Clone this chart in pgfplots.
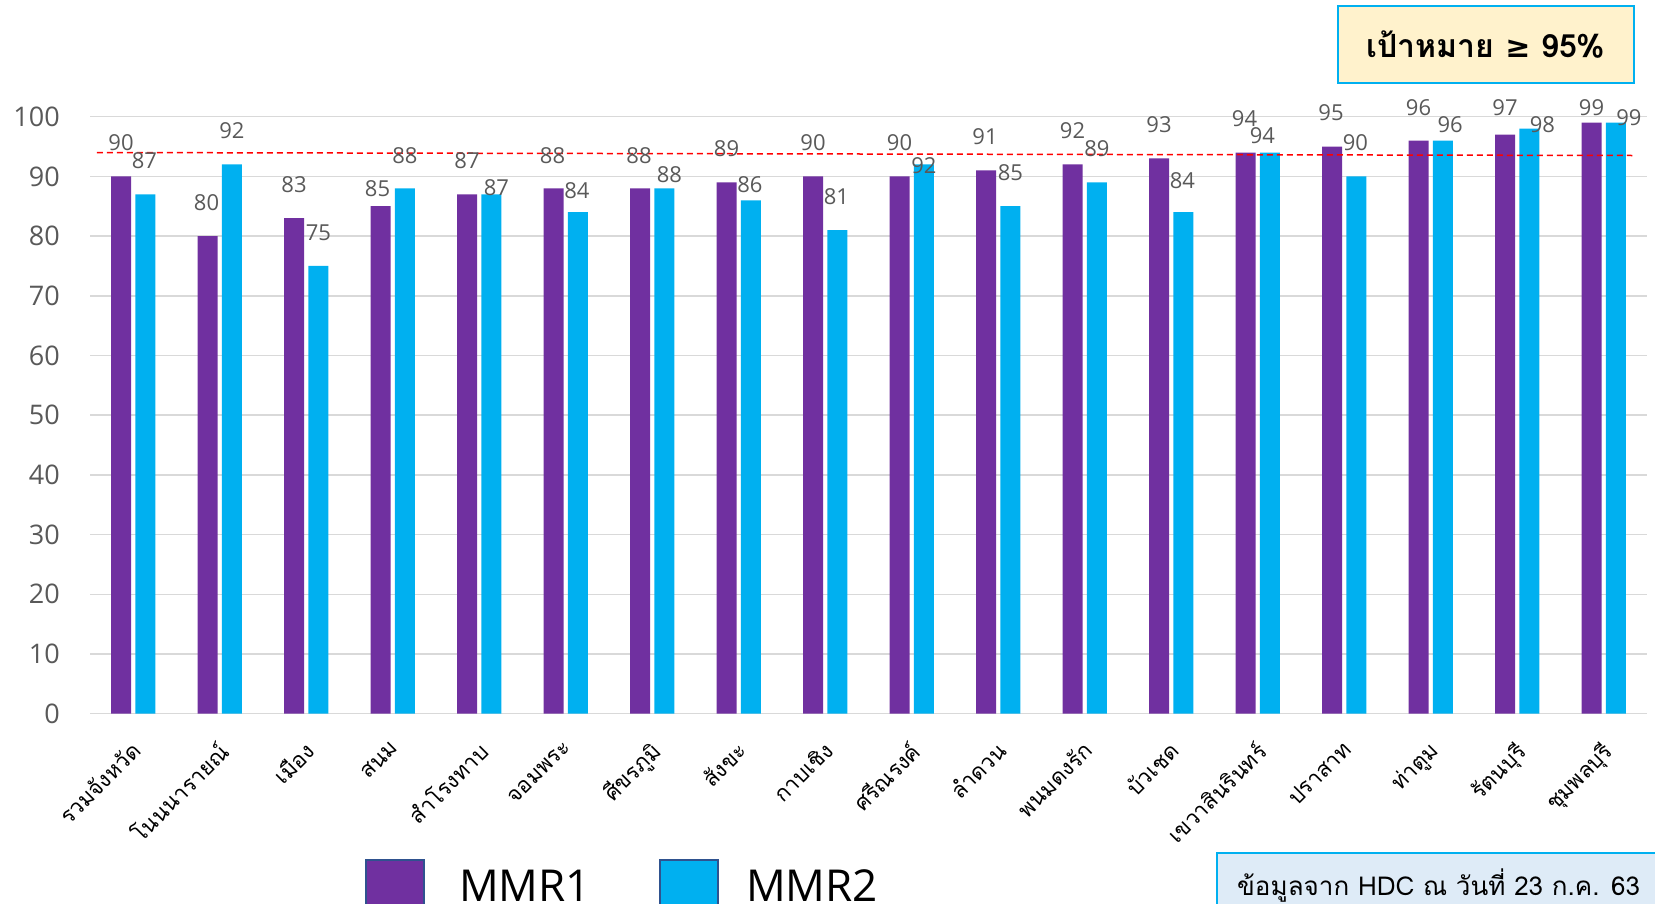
\documentclass[border=0pt]{standalone}
\usepackage{fontspec}
\setmainfont{Open Sans}
\newfontfamily\thaifont[Script=Thai]{Loma}
\newfontfamily\symfont{DejaVu Sans}
\usepackage{pgfplots}
\usepackage{pgfplotstable}
\pgfplotsset{compat=1.18}
\definecolor{mpurple}{HTML}{7030A0}
\definecolor{mcyan}{HTML}{00B0F0}
\definecolor{lgray}{HTML}{595959}
\definecolor{ggray}{HTML}{D9D9D9}
\definecolor{boxyellow}{HTML}{FFF2CC}
\definecolor{boxblue}{HTML}{DEEBF7}
\definecolor{legborder}{HTML}{2F528F}
% x = category index, y = value, dy/dx = label offset (px)
\pgfplotstableread{
x y dy dx
0 90 33.7 0
1 80 33 -1
2 83 34 0
3 85 17.7 -3
4 87 34 0
5 88 33 -1
6 88 33 -1
7 89 33.7 0
8 90 33.7 0
9 90 33.7 0
10 91 34 -1
11 92 34 0
12 93 34 0
13 94 34 -1
14 95 33.7 -1
15 96 32.7 0
16 97 26.7 0
17 99 14.7 0
}\mmrone
\pgfplotstableread{
x y dy dx
0 87 34 -1
1 92 34 0
2 75 33 0
3 88 33 0
4 87 6.7 5
5 84 22 -1
6 88 13.3 5
7 86 15.3 -1
8 81 33.3 -1
9 92 -0.7 0
10 85 33.7 0
11 89 33.7 0
12 84 32 -1
13 94 17.3 -7.5
14 90 33.7 -1
15 96 16 7.2
16 98 4 13
17 99 4.7 13
}\mmrtwo
\begin{document}
\begin{tikzpicture}
\useasboundingbox (0pt,0pt) rectangle (1655pt,903pt);
\begin{axis}[
  at={(90pt,189.3pt)}, anchor=south west,
  scale only axis, width=1557pt, height=597pt,
  xmin=-0.5, xmax=17.5, ymin=0, ymax=100,
  enlargelimits=false, clip=false,
  xtick={0,...,17},
  xticklabels={รวมจังหวัด,โนนนารายณ์,เมือง,สนม,สำโรงทาบ,จอมพระ,ศีขรภูมิ,สังขะ,กาบเชิง,ศรีณรงค์,ลำดวน,พนมดงรัก,บัวเชด,เขวาสินรินทร์,ปราสาท,ท่าตูม,รัตนบุรี,ชุมพลบุรี},
  ytick={0,10,...,100},
  ymajorgrids, grid style={ggray, line width=1.5pt},
  axis line style={draw=none}, major tick length=0pt, tick style={draw=none},
  /pgf/number format/assume math mode=true,
  yticklabel style={font=\fontsize{27}{30}\selectfont, text=lgray, anchor=east, inner sep=0pt, xshift=-30pt},
  xticklabel style={xshift=-3pt, yshift=-26pt, rotate=45, anchor=north east, inner sep=0pt, font=\thaifont\fontsize{22}{26}\selectfont, text=black},
]
\addplot[ybar, bar width=20pt, bar shift=-12.2pt, fill=mpurple, draw=none,
  visualization depends on={\thisrow{dy} \as \dy},
  visualization depends on={\thisrow{dx} \as \dx},
  nodes near coords, nodes near coords style={font=\fontsize{22}{26}\selectfont, text=lgray, anchor=center, inner sep=0pt, xshift={\dx*1pt-12.2pt}, yshift={\dy*1pt}}]
  table[x=x, y=y] {\mmrone};
\addplot[ybar, bar width=20pt, bar shift=12.2pt, fill=mcyan, draw=none,
  visualization depends on={\thisrow{dy} \as \dy},
  visualization depends on={\thisrow{dx} \as \dx},
  nodes near coords, nodes near coords style={font=\fontsize{22}{26}\selectfont, text=lgray, anchor=center, inner sep=0pt, xshift={\dx*1pt+12.2pt}, yshift={\dy*1pt}}]
  table[x=x, y=y] {\mmrtwo};
\addplot[sharp plot, red, line width=1.5pt, dash pattern=on 6pt off 4pt, mark=none]
  coordinates {(-0.42,94.0) (17.33,93.5)};
\end{axis}
\node[draw=mcyan, line width=2pt, fill=boxyellow, minimum width=296pt, minimum height=77pt, inner sep=0pt,
  font=\thaifont\bfseries\fontsize{32}{36}\selectfont] at (1486pt,858.5pt) {เป้าหมาย {\symfont\fontsize{30}{36}\selectfont ≥} 95\%};
\draw[mcyan, line width=2pt, fill=boxblue] (1217pt,-20pt) rectangle (1680pt,50pt);
\node[anchor=base west, inner sep=0pt, font=\thaifont\fontsize{26}{30}\selectfont] at (1237pt,8pt) {ข้อมูลจาก HDC ณ วันที่ 23 ก.ค. 63};
\draw[legborder, line width=1.5pt, fill=mpurple] (366pt,-15pt) rectangle (424pt,43pt);
\node[anchor=base west, inner sep=0pt, font=\fontsize{44}{50}\selectfont] at (459pt,2pt) {MMR1};
\draw[legborder, line width=1.5pt, fill=mcyan] (660pt,-15pt) rectangle (718pt,43pt);
\node[anchor=base west, inner sep=0pt, font=\fontsize{44}{50}\selectfont] at (746pt,2pt) {MMR2};
\end{tikzpicture}
\end{document}
